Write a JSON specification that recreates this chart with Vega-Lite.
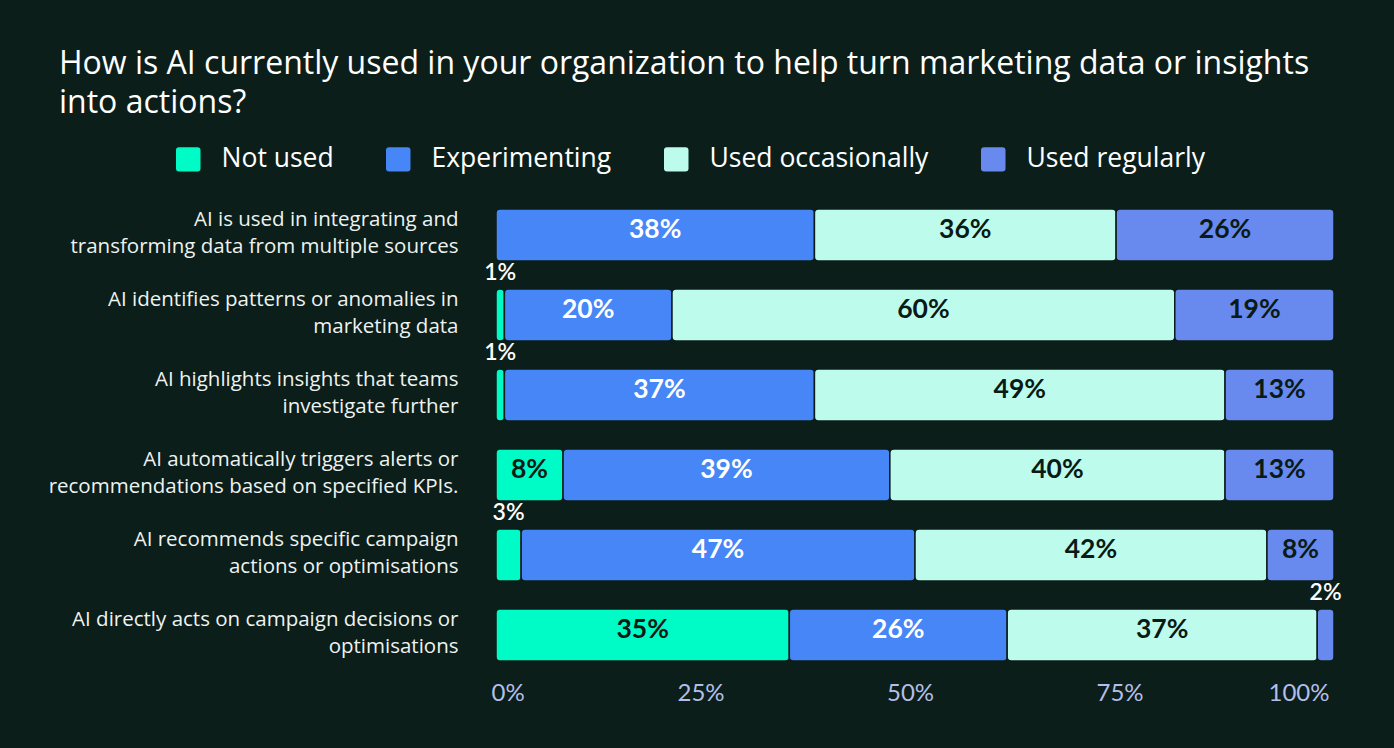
{
  "$schema": "https://vega.github.io/schema/vega-lite/v6.json",
  "autosize": {"type": "none"},
  "width": 838,
  "height": 480,
  "padding": {"left": 496, "top": 195, "right": 60, "bottom": 73},
  "background": "#0b1e19",
  "config": {
    "font": "Open Sans",
    "view": {"stroke": null}
  },
  "title": {
    "text": ["How is AI currently used in your organization to help turn marketing data or insights", "into actions?"],
    "anchor": "start",
    "frame": "group",
    "dx": -437,
    "dy": -6,
    "font": "Open Sans",
    "fontSize": 32,
    "fontWeight": "normal",
    "color": "#ffffff",
    "lineHeight": 39,
    "offset": 20
  },
  "data": {
    "values": [
      {"item": "AI is used in integrating and\ntransforming data from multiple sources", "status": "Experimenting", "value": 38},
      {"item": "AI is used in integrating and\ntransforming data from multiple sources", "status": "Used occasionally", "value": 36},
      {"item": "AI is used in integrating and\ntransforming data from multiple sources", "status": "Used regularly", "value": 26},
      {"item": "AI identifies patterns or anomalies in\nmarketing data", "status": "Not used", "value": 1},
      {"item": "AI identifies patterns or anomalies in\nmarketing data", "status": "Experimenting", "value": 20},
      {"item": "AI identifies patterns or anomalies in\nmarketing data", "status": "Used occasionally", "value": 60},
      {"item": "AI identifies patterns or anomalies in\nmarketing data", "status": "Used regularly", "value": 19},
      {"item": "AI highlights insights that teams\ninvestigate further", "status": "Not used", "value": 1},
      {"item": "AI highlights insights that teams\ninvestigate further", "status": "Experimenting", "value": 37},
      {"item": "AI highlights insights that teams\ninvestigate further", "status": "Used occasionally", "value": 49},
      {"item": "AI highlights insights that teams\ninvestigate further", "status": "Used regularly", "value": 13},
      {"item": "AI automatically triggers alerts or\nrecommendations based on specified KPIs.", "status": "Not used", "value": 8},
      {"item": "AI automatically triggers alerts or\nrecommendations based on specified KPIs.", "status": "Experimenting", "value": 39},
      {"item": "AI automatically triggers alerts or\nrecommendations based on specified KPIs.", "status": "Used occasionally", "value": 40},
      {"item": "AI automatically triggers alerts or\nrecommendations based on specified KPIs.", "status": "Used regularly", "value": 13},
      {"item": "AI recommends specific campaign\nactions or optimisations", "status": "Not used", "value": 3},
      {"item": "AI recommends specific campaign\nactions or optimisations", "status": "Experimenting", "value": 47},
      {"item": "AI recommends specific campaign\nactions or optimisations", "status": "Used occasionally", "value": 42},
      {"item": "AI recommends specific campaign\nactions or optimisations", "status": "Used regularly", "value": 8},
      {"item": "AI directly acts on campaign decisions or\noptimisations", "status": "Not used", "value": 35},
      {"item": "AI directly acts on campaign decisions or\noptimisations", "status": "Experimenting", "value": 26},
      {"item": "AI directly acts on campaign decisions or\noptimisations", "status": "Used occasionally", "value": 37},
      {"item": "AI directly acts on campaign decisions or\noptimisations", "status": "Used regularly", "value": 2}
    ]
  },
  "transform": [
    {"calculate": "indexof(['Not used','Experimenting','Used occasionally','Used regularly'], datum.status)", "as": "k"},
    {"stack": "value", "groupby": ["item"], "sort": [{"field": "k", "order": "ascending"}], "as": ["v0", "v1"]},
    {"calculate": "(datum.v0 + datum.v1) / 2", "as": "mid"},
    {"calculate": "datum.value + '%'", "as": "pct"}
  ],
  "encoding": {
    "y": {
      "field": "item",
      "type": "nominal",
      "sort": null,
      "scale": {"paddingInner": 0.35, "paddingOuter": 0.175},
      "axis": {
        "title": null,
        "domain": false,
        "ticks": false,
        "labelExpr": "split(datum.label, '\\n')",
        "labelLineHeight": 27,
        "labelFontSize": 20.5,
        "labelFont": "Open Sans",
        "labelColor": "#eef2f1",
        "labelPadding": 38,
        "labelLimit": 500,
        "labelBaseline": "middle",
        "labelOffset": -15
      }
    }
  },
  "layer": [
    {
      "mark": {"type": "bar", "cornerRadius": 4, "stroke": "#0b1e19", "strokeWidth": 1.5},
      "encoding": {
        "x": {
          "field": "v0",
          "type": "quantitative",
          "scale": {"domain": [0, 100], "nice": false},
          "axis": {
            "title": null,
            "values": [0, 25, 50, 75, 100],
            "labelExpr": "datum.value + '%'",
            "grid": false,
            "domain": false,
            "ticks": false,
            "labelFlush": true,
            "labelFontSize": 24,
            "labelColor": "#b3bfe8",
            "labelPadding": 6,
            "labelOffset": -5,
            "labelFont": "Lato"
          }
        },
        "x2": {"field": "v1"},
        "color": {
          "field": "status",
          "type": "nominal",
          "scale": {
            "domain": ["Not used", "Experimenting", "Used occasionally", "Used regularly"],
            "range": ["#00fcc6", "#4686f6", "#bdfcec", "#6889ee"]
          },
          "legend": {
            "title": null,
            "orient": "none",
            "direction": "horizontal",
            "legendX": -321,
            "legendY": -49,
            "labelFontSize": 26.5,
            "labelColor": "#ffffff",
            "labelFont": "Open Sans",
            "symbolType": "M -1 -0.75 Q -1 -1 -0.75 -1 L 0.75 -1 Q 1 -1 1 -0.75 L 1 0.75 Q 1 1 0.75 1 L -0.75 1 Q -1 1 -1 0.75 Z",
            "symbolSize": 600,
            "symbolStrokeWidth": 0,
            "symbolOpacity": 1,
            "labelOffset": 20,
            "columnPadding": 51,
            "labelLimit": 400
          }
        }
      }
    },
    {
      "transform": [{"filter": "datum.value >= 5"}],
      "mark": {"type": "text", "font": "Lato", "fontWeight": "bold", "fontSize": 26.5, "baseline": "middle", "align": "center", "dy": -5},
      "encoding": {
        "x": {"field": "mid", "type": "quantitative"},
        "text": {"field": "pct", "type": "nominal"},
        "color": {"condition": {"test": "datum.status === 'Experimenting'", "value": "#ffffff"}, "value": "#0a1a15"}
      }
    },
    {
      "transform": [{"filter": "datum.value < 5"}],
      "mark": {"type": "text", "font": "Lato", "fontWeight": 600, "fontSize": 23, "baseline": "middle", "align": "center", "dy": -42, "color": "#ffffff"},
      "encoding": {
        "x": {"field": "mid", "type": "quantitative"},
        "text": {"field": "pct", "type": "nominal"}
      }
    }
  ]
}
